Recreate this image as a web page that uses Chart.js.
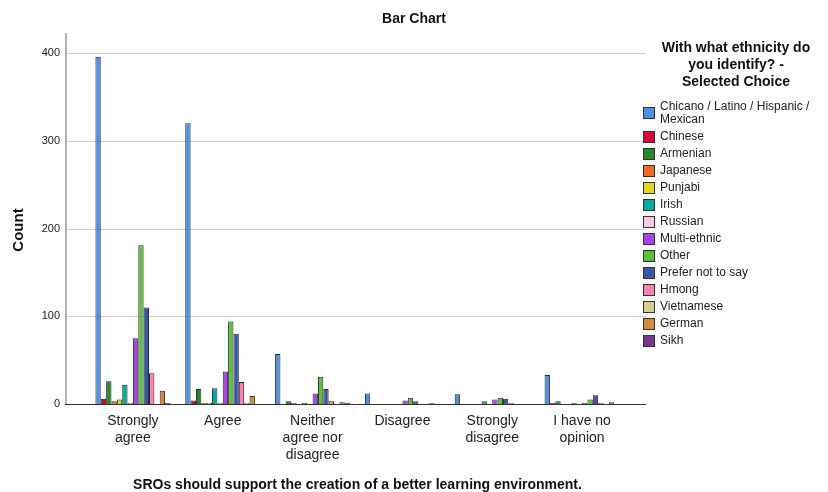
<!DOCTYPE html>
<html>
<head>
<meta charset="utf-8">
<script src="https://cdn.jsdelivr.net/npm/chart.js@4.4.0/dist/chart.umd.min.js"></script>
<style>
  html, body { margin: 0; padding: 0; background: #fff; }
  #wrap { width: 828px; height: 492px; }
</style>
</head>
<body>
<div id="wrap"><canvas id="Chart1"></canvas></div>
<script>
// Valores
const categories = [["Strongly", "agree"], "Agree", ["Neither", "agree nor", "disagree"], "Disagree", ["Strongly", "disagree"], ["I have no", "opinion"]];
const yTicks = [0, 100, 200, 300, 400];

const chicano    = [396, 320, 57, 12, 11, 33];
const chinese    = [6, 4, 0, 0, 0, 1];
const armenian   = [26, 17, 3, 0, 0, 3];
const japanese   = [3, 1, 1, 0, 0, 0];
const punjabi    = [5, 1, 0, 0, 0, 0];
const irish      = [22, 18, 1, 0, 3, 1];
const russian    = [1, 1, 0, 0, 0, 0];
const multi      = [75, 37, 12, 4, 5, 1];
const other      = [181, 94, 31, 7, 7, 5];
const preferNot  = [110, 80, 17, 3, 6, 10];
const hmong      = [35, 25, 3, 0, 1, 1];
const vietnamese = [0, 1, 0, 0, 0, 0];
const german     = [15, 9, 2, 1, 0, 2];
const sikh       = [1, 0, 1, 0, 0, 0];

const seriesLabels = [["Chicano / Latino / Hispanic /", "Mexican"], "Chinese", "Armenian", "Japanese", "Punjabi", "Irish",
  "Russian", "Multi-ethnic", "Other", "Prefer not to say", "Hmong", "Vietnamese", "German", "Sikh"];
const seriesData = [chicano, chinese, armenian, japanese, punjabi, irish, russian, multi, other, preferNot, hmong, vietnamese, german, sikh];
const colors = ["#4f8fe0", "#d6003b", "#27852a", "#f26a24", "#e3d616", "#00ab9c", "#ffc8e4", "#a445ee",
  "#5ac23a", "#3a55a6", "#ff80b2", "#d5cd91", "#d28a3c", "#78358f"];

const FONT = "'Liberation Sans', Arial, sans-serif";

const datasets = seriesData.map((data, i) => ({
  label: Array.isArray(seriesLabels[i]) ? seriesLabels[i].join(" ") : seriesLabels[i],
  data: data,
  backgroundColor: colors[i],
  borderColor: "#2a2a2a",
  borderWidth: 1,
  barPercentage: 1.0,
  categoryPercentage: 0.835,
}));

// axis lines, gridlines, titles and legend drawn around the plot
const frame = {
  id: "frame",
  beforeDatasetsDraw(chart) {
    const { ctx, chartArea, scales } = chart;
    const x0 = 66, x1 = 646;
    ctx.save();
    ctx.strokeStyle = "#cfcfcf";
    ctx.lineWidth = 1;
    yTicks.slice(1).forEach(v => {
      const y = Math.round(scales.y.getPixelForValue(v)) + 0.5;
      ctx.beginPath(); ctx.moveTo(x0, y); ctx.lineTo(x1, y); ctx.stroke();
    });
    ctx.strokeStyle = "#b3b3b3";
    ctx.lineWidth = 2;
    ctx.beginPath(); ctx.moveTo(x0, chartArea.top); ctx.lineTo(x0, chartArea.bottom); ctx.stroke();
    ctx.restore();
  },
  afterDatasetsDraw(chart) {
    const { ctx, chartArea } = chart;
    ctx.save();
    ctx.strokeStyle = "#333";
    ctx.lineWidth = 1;
    const y = Math.round(chartArea.bottom) + 0.5;
    ctx.beginPath(); ctx.moveTo(65, y); ctx.lineTo(646, y); ctx.stroke();
    ctx.restore();
  },
  afterDraw(chart) {
    const { ctx } = chart;
    ctx.save();
    ctx.fillStyle = "#111";
    ctx.textAlign = "center";
    ctx.textBaseline = "middle";
    // chart title
    ctx.font = "bold 14px " + FONT;
    ctx.fillText("Bar Chart", 414, 19);
    // y title
    ctx.font = "bold 15px " + FONT;
    ctx.translate(19, 230);
    ctx.rotate(-Math.PI / 2);
    ctx.fillText("Count", 0, 0);
    ctx.setTransform(1, 0, 0, 1, 0, 0);

    // legend
    ctx.font = "bold 14px " + FONT;
    ["With what ethnicity do", "you identify? -", "Selected Choice"].forEach((t, i) => {
      ctx.fillText(t, 736, 48 + i * 17);
    });
    ctx.textAlign = "left";
    ctx.font = "12px " + FONT;
    seriesLabels.forEach((lab, i) => {
      const lines = Array.isArray(lab) ? lab : [lab];
      const cy = i === 0 ? 113 : 137 + (i - 1) * 17;
      ctx.fillStyle = chart.data.datasets[i].backgroundColor;
      ctx.fillRect(643, cy - 6, 12, 12);
      ctx.strokeStyle = "#333";
      ctx.lineWidth = 1;
      ctx.strokeRect(643.5, cy - 5.5, 11, 11);
      ctx.fillStyle = "#222";
      lines.forEach((l, k) => {
        const ty = i === 0 ? 107 + k * 13 : cy;
        ctx.fillText(l, 660, ty);
      });
    });
    ctx.restore();
  }
};

// Gráfica
const ctx1 = document.getElementById("Chart1").getContext("2d");
new Chart(ctx1, {
  type: "bar",
  data: {
    labels: categories,
    datasets: datasets,
  },
  options: {
    responsive: true,
    maintainAspectRatio: false,
    animation: false,
    layout: { padding: { left: 0, right: 201, top: 33, bottom: 0 } },
    plugins: {
      legend: { display: false },
      tooltip: { enabled: false },
      title: { display: false },
    },
    scales: {
      x: {
        grid: { display: false },
        border: { display: false },
        ticks: {
          color: "#222",
          font: { family: FONT, size: 14 },
          padding: 1,
          maxRotation: 0,
          autoSkip: false,
        },
        title: {
          display: true,
          text: "SROs should support the creation of a better learning environment.",
          color: "#111",
          font: { family: FONT, size: 14, weight: "bold", lineHeight: 1.0 },
          padding: { top: 0, bottom: 0 },
        },
        afterFit: (scale) => { scale.height = 88; },
      },
      y: {
        min: 0,
        max: 423,
        grid: { display: false },
        border: { display: false },
        ticks: {
          stepSize: 100,
          color: "#222",
          font: { family: FONT, size: 11 },
          padding: 20,
        },
        afterBuildTicks: (scale) => {
          scale.ticks = yTicks.map(v => ({ value: v }));
        },
        afterFit: (scale) => { scale.width = 88; },
      },
    },
  },
  plugins: [frame],
});
</script>
</body>
</html>
